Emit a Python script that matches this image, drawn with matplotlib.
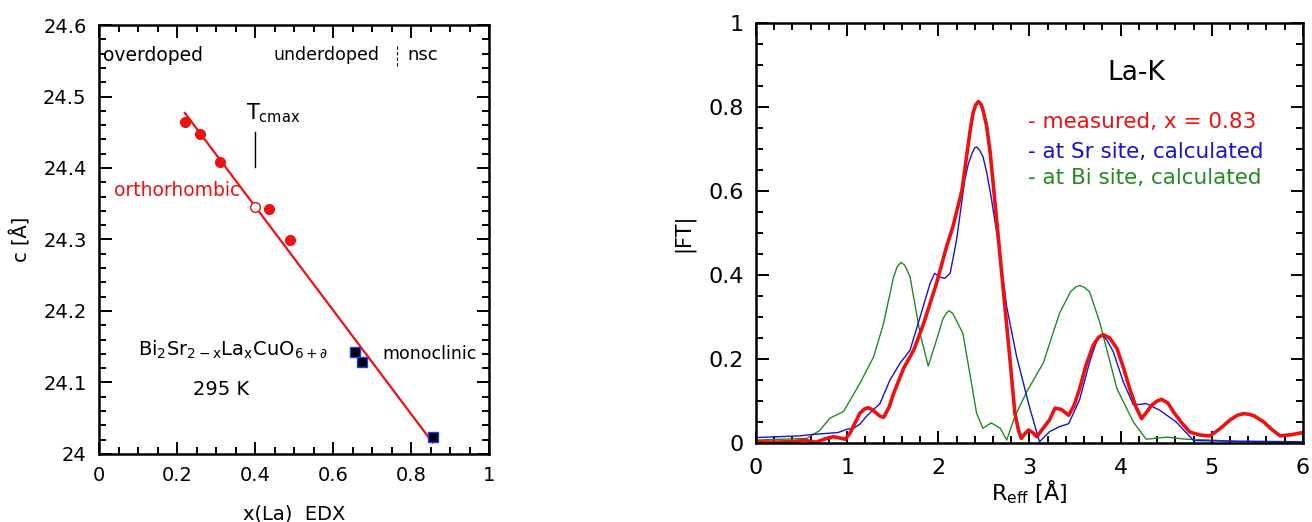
import numpy as np
import matplotlib
matplotlib.use("Agg")
import matplotlib.pyplot as plt
from matplotlib.ticker import MultipleLocator

plt.rcParams["font.family"] = ["DejaVu Sans"]
plt.rcParams["mathtext.fontset"] = "dejavusans"

# --- left panel: c-axis parameter vs La content ---
x_ortho = [0.22, 0.26, 0.31, 0.435, 0.49]
c_ortho = [24.464, 24.448, 24.409, 24.343, 24.299]
x_tcmax, c_tcmax = 0.40, 24.346
x_mono = [0.656, 0.675, 0.855]
c_mono = [24.143, 24.128, 24.024]
fit_x = [0.22, 0.855]
fit_c = [24.477, 24.016]

left_xticks = [0, 0.2, 0.4, 0.6, 0.8, 1.0]
left_xlabels = ["0", "0.2", "0.4", "0.6", "0.8", "1"]
left_yticks = [24.0, 24.1, 24.2, 24.3, 24.4, 24.5, 24.6]
left_ylabels = ["24", "24.1", "24.2", "24.3", "24.4", "24.5", "24.6"]

# --- right panel: |FT| of La-K EXAFS ---
r_meas = [0, 0.2, 0.44, 0.52, 0.66, 0.76, 0.85, 0.92, 0.98, 1.03, 1.08, 1.14,
          1.19, 1.23, 1.28, 1.32, 1.36, 1.40, 1.46, 1.51, 1.62, 1.73, 1.84,
          1.98, 2.09, 2.16, 2.26, 2.31, 2.35, 2.38, 2.41, 2.44, 2.47, 2.49,
          2.53, 2.57, 2.64, 2.71, 2.79, 2.84, 2.88, 2.91, 2.95, 2.99, 3.04,
          3.08, 3.15, 3.22, 3.28, 3.35, 3.43, 3.49, 3.55, 3.62, 3.70, 3.76,
          3.81, 3.88, 3.96, 4.03, 4.10, 4.17, 4.23, 4.29, 4.34, 4.40, 4.45,
          4.52, 4.58, 4.67, 4.76, 4.87, 4.98, 5.09, 5.20, 5.28, 5.35, 5.42,
          5.47, 5.57, 5.66, 5.75, 5.88, 6.0]
ft_meas = [0.003, 0.002, 0.004, 0.007, 0.002, 0.010, 0.015, 0.012, 0.009,
           0.023, 0.045, 0.071, 0.081, 0.084, 0.079, 0.071, 0.064, 0.061,
           0.085, 0.118, 0.178, 0.221, 0.285, 0.380, 0.467, 0.515, 0.602,
           0.682, 0.745, 0.785, 0.805, 0.813, 0.806, 0.793, 0.755, 0.690,
           0.531, 0.372, 0.190, 0.071, 0.030, 0.011, 0.022, 0.031, 0.024,
           0.015, 0.035, 0.055, 0.083, 0.080, 0.066, 0.090, 0.129, 0.185,
           0.233, 0.252, 0.258, 0.250, 0.225, 0.180, 0.129, 0.085, 0.058,
           0.075, 0.090, 0.100, 0.104, 0.095, 0.074, 0.048, 0.026, 0.019,
           0.017, 0.034, 0.055, 0.066, 0.070, 0.068, 0.064, 0.050, 0.032,
           0.017, 0.020, 0.025]

r_sr = [0, 0.48, 0.6, 0.78, 0.9, 1.0, 1.07, 1.14, 1.21, 1.36, 1.47, 1.58,
        1.69, 1.80, 1.91, 1.96, 2.02, 2.07, 2.13, 2.20, 2.29, 2.33, 2.37,
        2.40, 2.42, 2.45, 2.49, 2.53, 2.58, 2.68, 2.75, 2.86, 3.0, 3.11,
        3.22, 3.33, 3.43, 3.55, 3.66, 3.74, 3.79, 3.85, 3.92, 4.03, 4.14,
        4.21, 4.28, 4.43, 4.61, 4.8, 5.0, 6.0]
ft_sr = [0.013, 0.017, 0.020, 0.023, 0.025, 0.033, 0.035, 0.045, 0.063,
         0.094, 0.150, 0.190, 0.221, 0.300, 0.380, 0.404, 0.395, 0.392,
         0.404, 0.483, 0.626, 0.665, 0.690, 0.703, 0.705, 0.698, 0.682,
         0.645, 0.586, 0.444, 0.325, 0.205, 0.086, 0.003, 0.027, 0.039,
         0.046, 0.103, 0.193, 0.245, 0.258, 0.245, 0.217, 0.145, 0.091,
         0.092, 0.094, 0.078, 0.050, 0.006, 0.005, 0.003]

r_bi = [0, 0.556, 0.7, 0.81, 0.96, 1.14, 1.29, 1.40, 1.51, 1.55, 1.59, 1.63,
        1.69, 1.80, 1.89, 1.98, 2.05, 2.09, 2.12, 2.16, 2.27, 2.42, 2.49,
        2.58, 2.68, 2.75, 2.84, 2.97, 3.15, 3.33, 3.45, 3.51, 3.55, 3.60,
        3.66, 3.77, 3.96, 4.14, 4.28, 4.5, 4.72, 5.0, 5.3, 6.0]
ft_bi = [0.007, 0.011, 0.030, 0.059, 0.075, 0.142, 0.205, 0.285, 0.396,
         0.420, 0.430, 0.424, 0.396, 0.261, 0.183, 0.245, 0.295, 0.310,
         0.315, 0.308, 0.261, 0.071, 0.035, 0.048, 0.035, 0.007, 0.063,
         0.122, 0.190, 0.309, 0.360, 0.372, 0.375, 0.371, 0.360, 0.288,
         0.129, 0.050, 0.009, 0.014, 0.009, 0.007, 0.003, 0.0]

right_xticks = [0, 1, 2, 3, 4, 5, 6]
right_yticks = [0, 0.2, 0.4, 0.6, 0.8, 1.0]
right_ylabels = ["0", "0.2", "0.4", "0.6", "0.8", "1"]

RED, BLUE, GREEN = "#ee1111", "#1414c8", "#228b22"
FS = 14

fig = plt.figure(figsize=(13.12, 5.22), dpi=100)
ax1 = fig.add_axes([0.0755, 0.1303, 0.2973, 0.8218])
ax2 = fig.add_axes([0.5762, 0.1513, 0.4169, 0.8046])


def style(ax, fs):
    for s in ax.spines.values():
        s.set_linewidth(1.8)
    ax.tick_params(which="both", direction="in", top=True, right=True,
                   labelsize=fs, width=1.4)
    ax.tick_params(which="major", length=9, pad=9)
    ax.tick_params(which="minor", length=5)


# left panel
ax1.plot(fit_x, fit_c, color=RED, lw=1.6, zorder=2)
ax1.plot(x_ortho, c_ortho, "o", color=RED, ms=7, zorder=3)
ax1.plot([x_tcmax], [c_tcmax], "o", mfc="white", mec=RED, mew=1.0, ms=7, zorder=3)
ax1.plot(x_mono, c_mono, "s", mfc="black", mec="#1f3cff", mew=1.0, ms=7, zorder=3)
ax1.set_xticks(left_xticks, left_xlabels)
ax1.set_yticks(left_yticks, left_ylabels)
ax1.xaxis.set_minor_locator(MultipleLocator(0.05))
ax1.yaxis.set_minor_locator(MultipleLocator(0.02))
ax1.set_xlim(0, 1)
ax1.set_ylim(24.0, 24.6)
style(ax1, FS)
ax1.set_xlabel("x(La)  EDX", fontsize=FS, labelpad=14)
ax1.set_ylabel("c [Å]", fontsize=FS, labelpad=8)

ax1.text(0.01, 24.558, "overdoped", fontsize=13.5, va="center")
ax1.text(0.447, 24.558, "underdoped", fontsize=12.5, va="center")
ax1.plot([0.763, 0.763], [24.57, 24.54], color="black", lw=0.8, ls=(0, (3, 2)))
ax1.text(0.79, 24.558, "nsc", fontsize=13, va="center")
ax1.text(0.378, 24.468, r"T$_{\mathregular{cmax}}$", fontsize=FS + 1)
ax1.plot([0.4, 0.4], [24.451, 24.402], color="black", lw=1.0)
ax1.text(0.039, 24.368, "orthorhombic", color=RED, fontsize=13.5, va="center")
ax1.text(0.727, 24.14, "monoclinic", fontsize=12.5, va="center")
ax1.text(0.099, 24.147,
         r"Bi$_{\mathregular{2}}$Sr$_{\mathregular{2-x}}$La$_{\mathregular{x}}$CuO$_{\mathregular{6+\partial}}$",
         fontsize=FS, va="center")
ax1.text(0.313, 24.09, "295 K", fontsize=FS, va="center", ha="center")

# right panel
ax2.plot(r_bi, ft_bi, color=GREEN, lw=1.0)
ax2.plot(r_sr, ft_sr, color=BLUE, lw=1.0)
ax2.plot(r_meas, ft_meas, color=RED, lw=2.6)
ax2.set_xticks(right_xticks)
ax2.set_yticks(right_yticks, right_ylabels)
ax2.xaxis.set_minor_locator(MultipleLocator(0.2))
ax2.yaxis.set_minor_locator(MultipleLocator(0.05))
ax2.set_xlim(0, 6)
ax2.set_ylim(0, 1)
style(ax2, FS + 2)
ax2.tick_params(axis="x", which="major", pad=11)
ax2.set_xlabel(r"R$_{\mathregular{eff}}$ [Å]", fontsize=FS + 2, labelpad=0)
ax2.set_ylabel("|FT|", fontsize=FS + 1, labelpad=10)

ax2.text(3.85, 0.88, "La-K", fontsize=19, va="center")
ax2.text(2.98, 0.764, "- measured, x = 0.83", color=RED, fontsize=15.5, va="center")
ax2.text(2.98, 0.693, "- at Sr site, calculated", color=BLUE, fontsize=15.5, va="center")
ax2.text(2.98, 0.631, "- at Bi site, calculated", color=GREEN, fontsize=15.5, va="center")

fig.savefig("out.png", dpi=100)
